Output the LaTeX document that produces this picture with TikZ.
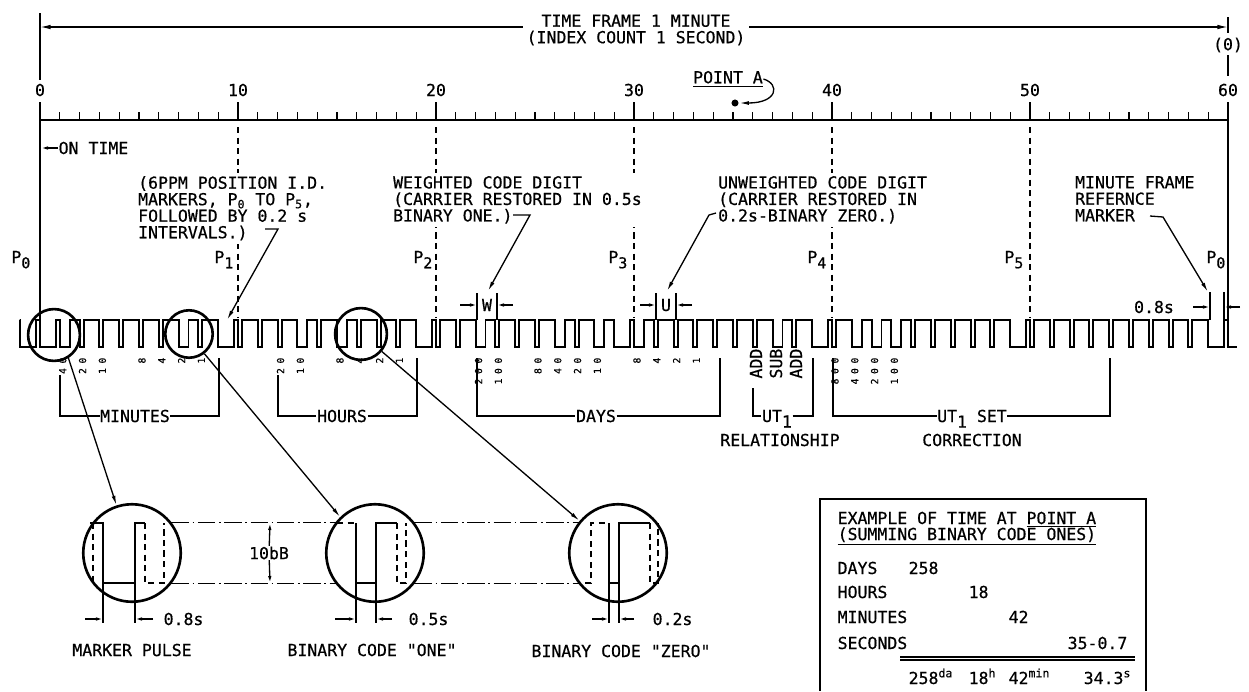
\documentclass[tikz,border=0pt]{standalone}
\usepackage{fontspec}
\newfontfamily\letterfont{DejaVu Sans Mono}[FakeBold=0.6]
\newfontfamily\bitfont[LetterSpace=48,FakeBold=0.6]{DejaVu Sans Mono}
\usetikzlibrary{arrows.meta,positioning}
\tikzset{
  lbl/.style={inner sep=0pt, font=\letterfont\fontsize{9.4}{9.4}\selectfont},
  note/.style={lbl, align=left, anchor=north west, fill=white, inner sep=2pt},
  bit/.style={inner sep=0pt, rotate=90, anchor=east, font=\bitfont\fontsize{5.5}{6}\selectfont},
  sgn/.style={lbl, rotate=90, anchor=east},
  tip/.style={-{Latex[length=5.5pt,width=2.2pt]}},
  dimtip/.style={-{Latex[length=4pt,width=2pt]}},
  wave/.style={line width=1.1pt},
  loupe/.style={circle, draw, line width=1.5pt, inner sep=0pt, minimum size=#1},
  refline/.style={dash pattern=on 10pt off 2pt on 1pt off 2pt},
  marks/.style={dash pattern=on 3.5pt off 2.5pt},
  gap/.style={lbl, fill=white, inner xsep=2pt}
}
\newcommand{\psub}[1]{P\raisebox{-3pt}{\fontsize{8.5}{8.5}\selectfont#1}}

\begin{document}
\begin{tikzpicture}[x=0.02cm, y=-0.02cm, line width=0.75pt]
  \useasboundingbox (0,0) rectangle (1249,691);
  % time frame arrow
  \coordinate (f0) at (40,27);
  \coordinate (f60) at (1228,27);
  \draw (40,13) -- (40,80);
  \draw (1228,17) -- (1228,33);
  \draw (1228,55) -- (1228,76);
  \draw[{Latex[length=6pt,width=2.6pt]}-{Latex[length=6pt,width=2.6pt]}] (f0) -- (f60);
  \node[gap, align=center, anchor=north] (frame) at (636,14) {TIME FRAME 1 MINUTE\\(INDEX COUNT 1 SECOND)};
  \node[lbl] (nextmin) at (1228,45) {(0)};

  % ruler
  \draw (40,120) -- (1228,120);
  \foreach \s in {0,...,60} \draw ({40+19.8*\s},120) -- ++(0,-8);
  \foreach \s in {0,10,...,60} {
    \draw ({40+19.8*\s},120) -- ++(0,-18);
    \node[lbl] (sec\s) at ({40+19.8*\s},90) {\s};
  }

  % point A
  \node[lbl] (pointa) at (728,79) {\underline{POINT A}};
  \node[circle, fill, inner sep=0pt, minimum size=4pt] (dotA) at (735,103) {};
  \draw[tip] (pointa.east) .. controls (780,84) and (778,103) .. (dotA.east);

  % position markers
  \draw (40,120) -- (40,320);
  \draw (1228,120) -- (1228,320);
  \foreach \s in {10,20,...,50} \draw[marks] ({40+19.8*\s},127) -- ({40+19.8*\s},318);
  \node[lbl, anchor=base east] (p0) at (31,263) {\psub{0}};
  \node[lbl, anchor=base east] (p1) at (234,263) {\psub{1}};
  \node[lbl, anchor=base east] (p2) at (433,263) {\psub{2}};
  \node[lbl, anchor=base east] (p3) at (628,263) {\psub{3}};
  \node[lbl, anchor=base east] (p4) at (827,263) {\psub{4}};
  \node[lbl, anchor=base east] (p5) at (1024,263) {\psub{5}};
  \node[lbl, anchor=base east] (p0r) at (1226,263) {\psub{0}};

  \node[lbl, anchor=west] (ontime) at (58,148) {ON TIME};
  \coordinate (ot) at (41,148);
  \draw[dimtip] (ontime.west) -- (ot);

  % notes
  \node[note] (idnote) at (134,172) {(6PPM POSITION I.D.\\MARKERS, P\textsubscript{0} TO P\textsubscript{5},\\FOLLOWED BY 0.2 s\\INTERVALS.)};
  \coordinate (idhook) at (265,229);
  \coordinate (idend) at (227,320);
  \draw[tip] (idhook) -- ++(13,0) -- (idend);

  \node[note] (wnote) at (389,172) {WEIGHTED CODE DIGIT\\(CARRIER RESTORED IN 0.5s\\BINARY ONE.)};
  \coordinate (whook) at (513,215);
  \coordinate (wend) at (488,291);
  \draw[tip] (whook) -- ++(17,0) -- (wend);

  \node[note] (unote) at (714,172) {UNWEIGHTED CODE DIGIT\\(CARRIER RESTORED IN\\0.2s-BINARY ZERO.)};
  \coordinate (uhook) at (716,213);
  \coordinate (uend) at (667,291);
  \draw[tip] (uhook) -- ++(-7,2) -- (uend);

  \node[note] (mnote) at (1071,172) {MINUTE FRAME\\REFERNCE\\MARKER};
  \coordinate (mhook) at (1150,216);
  \coordinate (mend) at (1208,292);
  \draw[tip] (mhook) -- ++(13,1) -- (mend);

  % W, U and 0.8s widths
  \draw (477,293) -- (477,320);
  \draw (497,293) -- (497,320);
  \draw[dimtip] (460,305) -- (477,305);
  \draw[dimtip] (513,305) -- (497,305);
  \node[lbl] (wlab) at (487,305) {W};
  \draw (656,293) -- (656,320);
  \draw (676,293) -- (676,320);
  \draw[dimtip] (640,305) -- (656,305);
  \draw[dimtip] (692,305) -- (676,305);
  \node[lbl] (ulab) at (666,305) {U};
  \draw (1210,292) -- (1210,320);
  \draw (1224,292) -- (1224,320);
  \draw[dimtip] (1193,307) -- (1210,307);
  \draw[dimtip] (1240,307) -- (1224,307);
  \node[lbl] (pwidth) at (1154,307) {0.8s};

  % time code
  \draw[wave] (20,320) foreach \w [count=\n from -1] in {.8,.8,.5,.2,.2,.2,.2,.2,.5,.2,.8,.2,.2,.2,.5,.2,.5,.2,.2,.2,.8,.2,.2,.5,.2,.2,.2,.5,.2,.5,.8,.5,.2,.2,.2,.2,.2,.2,.5,.2,.8,.2,.5,.5,.5,.2,.2,.2,.2,.2,.8,.2,.2,.2,.2,.2,.2,.2,.2,.2,.8}
    { -- ({40+19.8*\n},320) -- ({40+19.8*\n},347) -- ({40+19.8*(\n+\w)},347) -- ({40+19.8*(\n+\w)},320) }
    -- (1228,320) -- (1228,347) -- (1237,347);
  \node[loupe=29.5pt] (m1) at (54,335) {};
  \node[loupe=27pt] (m2) at (189,334) {};
  \node[loupe=29.5pt] (m3) at (361,334) {};

  % bit weights
  \foreach \s/\v in {1/40,2/20,3/10,5/8,6/4,7/2,8/1,12/20,13/10,15/8,16/4,17/2,18/1,22/200,23/100,25/80,26/40,27/20,28/10,30/8,31/4,32/2,33/1,40/800,41/400,42/200,43/100}
    \node[bit] (b\s) at ({40+19.8*(\s+0.15)},357) {\v};
  \node[sgn] (add1) at (756,348) {ADD};
  \node[sgn] (sub) at (776,348) {SUB};
  \node[sgn] (add2) at (796,348) {ADD};

  % groups
  \node[lbl] (mins) at (135,416) {MINUTES};
  \draw (60,375) |- (mins) -| (219,358);
  \node[lbl] (hrs) at (342,416) {HOURS};
  \draw (278,375) |- (hrs) -| (417,358);
  \node[lbl] (days) at (596,416) {DAYS};
  \draw (477,358) |- (days) -| (720,358);
  \node[lbl] (ut) at (777,416) {UT\smash{\raisebox{-3.2pt}{1}}};
  \draw (753,388) |- (ut) -| (813,358);
  \node[lbl] (rel) at (780,440) {RELATIONSHIP};
  \node[lbl] (utset) at (972,416) {UT\smash{\raisebox{-3.2pt}{1}} SET};
  \draw (833,358) |- (utset) -| (1110,358);
  \node[lbl] (corr) at (972,440) {CORRECTION};

  % magnified pulses
  \node[loupe=55.5pt] (mk) at (132,553) {};
  \node[loupe=55.5pt] (one) at (375,553) {};
  \node[loupe=55.5pt] (zero) at (618,553) {};
  \draw[tip] (m1.-58) -- (mk.108);
  \draw[tip] (m2.-52) -- (one.134);
  \draw[tip] (m3.-40) -- (zero.140);
  \draw[refline] (mk.38) -- (one.142);
  \draw[refline] (mk.-38) -- (one.-142);
  \draw[refline] (one.38) -- (zero.142);
  \draw[refline] (one.-38) -- (zero.-142);
  \node[gap] (db) at (269,553) {10bB};
  \coordinate (dbt) at (270,523);
  \coordinate (dbb) at (270,583);
  \draw[dimtip] (db) -- (dbt);
  \draw[dimtip] (db) -- (dbb);

  \draw[wave] (90,523) -- (103,523) -- (103,583) -- (135,583) -- (135,523) -- (145,523);
  \draw[marks] (93,523) -- (93,583);
  \draw[marks] (145,523) -- (145,583) -- (164,583) -- (164,523);
  \draw (103,583) -- (103,623);
  \draw (135,583) -- (135,623);
  \draw[dimtip] (85,619) -- (103,619);
  \draw[dimtip] (153,619) -- (135,619);
  \node[lbl, anchor=west] (mkw) at (163,619) {0.8s};

  \draw[marks] (337,523) -- (356,523);
  \draw[wave] (356,523) -- (356,583) -- (376,583) -- (376,523) -- (397,523);
  \draw[marks] (397,523) -- (397,583) -- (406,583) -- (406,523);
  \draw (356,583) -- (356,623);
  \draw (376,583) -- (376,623);
  \draw[dimtip] (335,619) -- (356,619);
  \draw[dimtip] (392,619) -- (376,619);
  \node[lbl, anchor=west] (onew) at (408,619) {0.5s};

  \draw[marks] (585,583) -- (591,583) -- (591,523) -- (609,523);
  \draw[wave] (609,523) -- (609,583) -- (619,583) -- (619,523) -- (650,523);
  \draw[marks] (650,523) -- (650,583) -- (658,583) -- (658,523);
  \draw (609,583) -- (609,623);
  \draw (619,583) -- (619,623);
  \draw[dimtip] (592,619) -- (609,619);
  \draw[dimtip] (634,619) -- (619,619);
  \node[lbl, anchor=west] (zerow) at (652,619) {0.2s};

  \node[lbl] (mklab) at (132,650) {MARKER PULSE};
  \node[lbl] (onelab) at (372,650) {BINARY CODE "ONE"};
  \node[lbl] (zerolab) at (621,651) {BINARY CODE "ZERO"};

  % example box
  \draw (820,691) |- (1146,499) -- (1146,691);
  \node[lbl, anchor=base west] (ex1) at (837,524) {EXAMPLE OF TIME AT \underline{POINT A}};
  \node[lbl, anchor=base west] (ex2) at (837,540) {\underline{(SUMMING BINARY CODE ONES)}};
  \node[lbl, anchor=base west] (daysk) at (837,574) {DAYS};
  \node[lbl, anchor=base west] (daysv) at (908,574) {258};
  \node[lbl, anchor=base west] (hrsk) at (837,598) {HOURS};
  \node[lbl, anchor=base west] (hrsv) at (968,598) {18};
  \node[lbl, anchor=base west] (minsk) at (837,623) {MINUTES};
  \node[lbl, anchor=base west] (minsv) at (1008,623) {42};
  \node[lbl, anchor=base west] (secsk) at (837,649) {SECONDS};
  \node[lbl, anchor=base east] (secsv) at (1128,649) {35-0.7};
  \draw (900,657) -- (1135,657);
  \draw (900,660) -- (1135,660);
  \node[lbl, anchor=base west] (r1) at (908,684) {258\textsuperscript{da}};
  \node[lbl, anchor=base west] (r2) at (968,684) {18\textsuperscript{h}};
  \node[lbl, anchor=base west] (r3) at (1008,684) {42\textsuperscript{min}};
  \node[lbl, anchor=base east] (r4) at (1132,684) {34.3\textsuperscript{s}};
\end{tikzpicture}
\end{document}
